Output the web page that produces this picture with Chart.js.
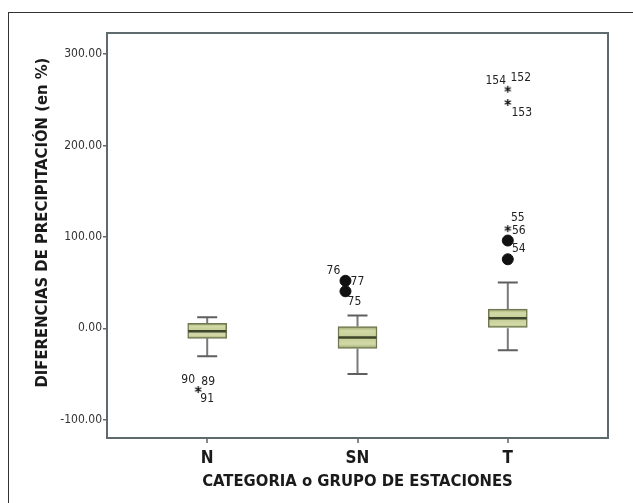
<!DOCTYPE html>
<html>
<head>
<meta charset="utf-8">
<script src="https://cdn.jsdelivr.net/npm/chart.js@4.4.1/dist/chart.umd.min.js"></script>
<style>
  html, body { margin: 0; padding: 0; background: #fff; overflow: hidden; }
  #wrap { position: relative; width: 633px; height: 503px; }
  #frame {
    position: absolute; left: 8px; top: 12px; width: 700px; height: 600px;
    border-top: 1px solid #333; border-left: 1px solid #333;
  }
  canvas { position: absolute; left: 0; top: 0; }
</style>
</head>
<body>
<div id="wrap">
  <div id="frame"></div>
  <canvas id="chart" width="633" height="503"></canvas>
</div>
<script>
// ── Data ──
const categories  = ['N', 'SN', 'T'];
const catPos      = [1, 2, 3];
const whiskerLow  = [-30.6, -50, -24];
const q1          = [-11, -22, 0];
const median      = [-3.3, -10, 11];
const q3          = [5.5, 2, 21];
const whiskerHigh = [12, 14, 50];

// outliers: circles (mild) and asterisks (extreme)
const circleX = [1.92, 1.92, 3, 3];
const circleY = [52, 40.5, 96, 75.5];
const starX   = [0.94, 3, 3, 3];
const starY   = [-67, 261.5, 247, 109];

// case labels, attached to a marker value
const caseText = ['90', '89', '91', '76', '77', '75', '154', '152', '153', '55', '56', '54'];
const caseX    = [0.94, 0.94, 0.94, 1.92, 1.92, 1.92, 3, 3, 3, 3, 3, 3];
const caseY    = [-67, -67, -67, 52, 52, 40.5, 261.5, 261.5, 247, 109, 109, 96];

const yTicks = [-100, 0, 100, 200, 300];

// ── Styles ──
const FONT   = "'Liberation Sans Narrow', 'DejaVu Sans Condensed', 'Liberation Sans', sans-serif";
const caseDx = [-10, 10, 9, -12, 12, 9, -12, 13, 14, 10, 11, 11];
const caseDy = [-10, -8, 9, -10, 1, 11, -8, -11, 10, -11, 2, 8];

// small 6-spoke asterisk used as point style
const star = document.createElement('canvas');
star.width = 9; star.height = 9;
(() => {
  const c = star.getContext('2d');
  c.strokeStyle = '#111'; c.lineWidth = 1.3;
  for (let a = 0; a < 3; a++) {
    const t = Math.PI / 2 + a * Math.PI / 3;
    c.beginPath();
    c.moveTo(4.5 - 3.5 * Math.cos(t), 4.5 - 3.5 * Math.sin(t));
    c.lineTo(4.5 + 3.5 * Math.cos(t), 4.5 + 3.5 * Math.sin(t));
    c.stroke();
  }
})();

// olive banded fill, like the scanned SPSS boxes
function boxFill(ctx) {
  const chart = ctx.chart;
  if (!chart.chartArea || ctx.dataIndex == null) return '#c6cd9a';
  const y = chart.scales.y;
  const i = ctx.dataIndex;
  const top = y.getPixelForValue(q3[i]);
  const bot = y.getPixelForValue(q1[i]);
  if (!isFinite(top) || !isFinite(bot) || bot - top < 1) return '#c6cd9a';
  const g = chart.ctx.createLinearGradient(0, top, 0, bot);
  g.addColorStop(0, '#9aa56c');
  g.addColorStop(0.2, '#d3daa8');
  g.addColorStop(0.5, '#c4cc96');
  g.addColorStop(0.8, '#d3daa8');
  g.addColorStop(1, '#9aa56c');
  return g;
}

const boxParts = {
  id: 'boxParts',
  beforeDatasetsDraw(chart) {
    const { ctx, scales: { x, y } } = chart;
    ctx.save();
    ctx.lineWidth = 2;
    catPos.forEach((p, i) => {
      const px = x.getPixelForValue(p);
      ctx.strokeStyle = '#7a7a7a';
      ctx.beginPath();
      ctx.moveTo(px, y.getPixelForValue(whiskerLow[i]));
      ctx.lineTo(px, y.getPixelForValue(q1[i]));
      ctx.moveTo(px, y.getPixelForValue(q3[i]));
      ctx.lineTo(px, y.getPixelForValue(whiskerHigh[i]));
      ctx.stroke();
      ctx.strokeStyle = '#5f5f5f';
      ctx.beginPath();
      [whiskerLow[i], whiskerHigh[i]].forEach(v => {
        const py = y.getPixelForValue(v);
        ctx.moveTo(px - 10, py);
        ctx.lineTo(px + 10, py);
      });
      ctx.stroke();
    });
    ctx.restore();
  },
  afterDatasetsDraw(chart) {
    const { ctx, scales: { x, y }, chartArea: a } = chart;
    ctx.save();
    // medians
    ctx.strokeStyle = '#3d452a';
    ctx.lineWidth = 2.5;
    catPos.forEach((p, i) => {
      const px = x.getPixelForValue(p);
      const py = y.getPixelForValue(median[i]);
      ctx.beginPath();
      ctx.moveTo(px - 19, py);
      ctx.lineTo(px + 19, py);
      ctx.stroke();
    });
    // case labels
    ctx.fillStyle = '#222';
    ctx.font = '12px ' + FONT;
    ctx.textAlign = 'center';
    ctx.textBaseline = 'middle';
    caseText.forEach((t, i) => {
      ctx.fillText(t, x.getPixelForValue(caseX[i]) + caseDx[i], y.getPixelForValue(caseY[i]) + caseDy[i]);
    });
    // plot frame
    ctx.strokeStyle = '#5e6a6e';
    ctx.lineWidth = 2;
    ctx.strokeRect(a.left, a.top, a.right - a.left, a.bottom - a.top);
    ctx.restore();
  }
};

new Chart(document.getElementById('chart'), {
  type: 'bar',
  data: {
    datasets: [
      {
        type: 'bar',
        data: catPos.map((p, i) => ({ x: p, y: [q1[i], q3[i]] })),
        backgroundColor: boxFill,
        borderColor: '#6f7850',
        borderWidth: 1.5,
        borderSkipped: false,
        barThickness: 39,
        order: 2,
      },
      {
        type: 'scatter',
        data: circleX.map((v, i) => ({ x: v, y: circleY[i] })),
        pointRadius: 5.5,
        pointBackgroundColor: '#111',
        pointBorderColor: '#111',
        order: 1,
      },
      {
        type: 'scatter',
        data: starX.map((v, i) => ({ x: v, y: starY[i] })),
        pointStyle: star,
        order: 1,
      },
    ],
  },
  options: {
    responsive: false,
    animation: false,
    layout: { padding: { left: 24, top: 33, right: 25, bottom: 6 } },
    plugins: { legend: { display: false }, tooltip: { enabled: false } },
    scales: {
      x: {
        type: 'linear',
        min: 1 / 3, max: 11 / 3,
        offset: false,
        afterBuildTicks: s => { s.ticks = catPos.map(v => ({ value: v })); },
        afterFit: s => { s.height = 59; },
        ticks: {
          color: '#1a1a1a',
          font: { family: FONT, size: 17, weight: 'bold' },
          padding: 5,
          callback: v => categories[catPos.indexOf(v)] ?? '',
        },
        grid: { offset: false, drawOnChartArea: false, tickLength: 5, color: '#888', lineWidth: 2 },
        border: { display: false },
        title: {
          display: true,
          text: 'CATEGORIA o GRUPO DE ESTACIONES',
          color: '#1a1a1a',
          font: { family: FONT, size: 16.5, weight: 'bold' },
          padding: { top: 0, bottom: 5 },
        },
      },
      y: {
        min: -120, max: 323,
        afterBuildTicks: s => { s.ticks = yTicks.map(v => ({ value: v })); },
        afterFit: s => { s.width = 83; },
        ticks: {
          color: '#333',
          font: { family: FONT, size: 12 },
          padding: 1,
          callback: v => v.toFixed(2),
        },
        grid: { drawOnChartArea: false, tickLength: 4, color: '#666', lineWidth: 1.5 },
        border: { display: false },
        title: {
          display: true,
          // leading blanks nudge the centred title up, as in the reference
          text: '\u00a0\u00a0\u00a0\u00a0\u00a0DIFERENCIAS DE PRECIPITACIÓN (en %)',
          color: '#1a1a1a',
          font: { family: FONT, size: 16.5, weight: 'bold' },
          padding: { top: 9, bottom: 0 },
        },
      },
    },
  },
  plugins: [boxParts],
});
</script>
</body>
</html>
